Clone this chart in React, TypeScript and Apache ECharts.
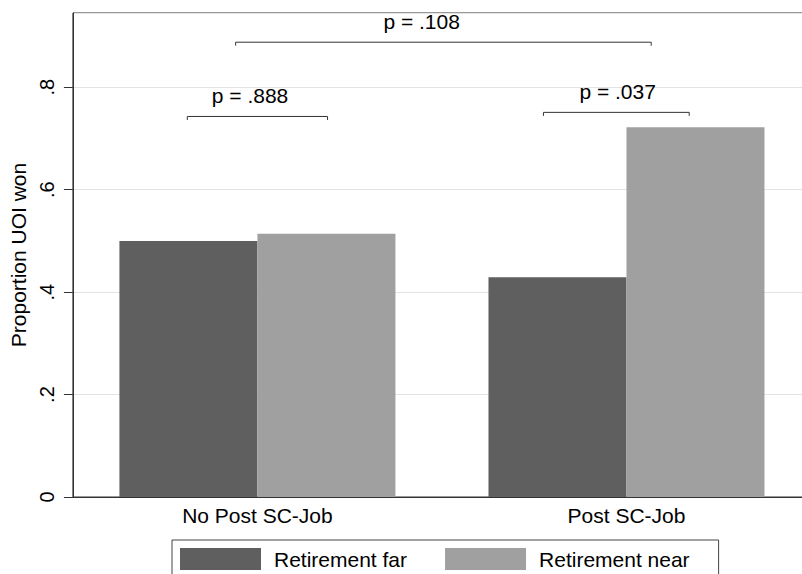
import React, { useEffect, useRef } from "react";
import * as echarts from "echarts";

const categories = ["No Post SC-Job", "Post SC-Job"];
const seriesNames = ["Retirement far", "Retirement near"];
const farValues = [0.5, 0.429];
const nearValues = [0.514, 0.722];
const yTicks = [0, 0.2, 0.4, 0.6, 0.8];
const yMax = 0.945;

// significance annotations: label, bracket level (data units), endpoints as [category index, offset in bands]
const annoText = ["p = .888", "p = .037", "p = .108"];
const annoLevel = [0.743, 0.751, 0.888];
const annoFrom: [number, number][] = [[0, -0.19], [1, -0.225], [0, -0.059]];
const annoTo: [number, number][] = [[0, 0.19], [1, 0.17], [1, 0.067]];
const annoTextAt: [number, number][] = [[0, -0.02], [1, -0.024], [0, 0.445]];

const FONT = "'Liberation Sans', Arial, Helvetica, sans-serif";
const COLORS = ["#5f5f5f", "#a0a0a0"];
const FS = 21;

export default function App() {
  const ref = useRef<HTMLDivElement>(null);
  useEffect(() => {
    document.body.style.margin = "0";
    if (!ref.current) return;
    const chart = echarts.init(ref.current, undefined, { renderer: "svg" });
    chart.setOption({
      animation: false,
      backgroundColor: "#ffffff",
      textStyle: { fontFamily: FONT, color: "#000" },
      grid: {
        left: 69,
        top: 13,
        width: 742,
        height: 484,
        show: true,
        borderColor: "#333",
        borderWidth: 1,
        backgroundColor: "transparent",
      },
      legend: {
        data: seriesNames,
        left: 172,
        top: 540,
        orient: "horizontal",
        itemWidth: 81,
        itemHeight: 22,
        itemGap: 38,
        padding: [8, 29, 12, 8],
        borderColor: "#444",
        borderWidth: 1,
        icon: "rect",
        textStyle: { fontFamily: FONT, fontSize: FS, color: "#000", padding: [0, 0, 0, 8] },
      },
      xAxis: {
        type: "category",
        data: categories,
        axisLine: { show: true, lineStyle: { color: "#333", width: 1 } },
        axisTick: { show: false },
        axisLabel: { fontFamily: FONT, fontSize: FS, color: "#000", margin: 8 },
      },
      yAxis: {
        type: "value",
        min: 0,
        max: yMax,
        interval: 0.2,
        name: "Proportion UOI won",
        nameLocation: "middle",
        nameRotate: 90,
        nameGap: 34,
        nameTextStyle: { fontFamily: FONT, fontSize: FS, color: "#000" },
        axisLine: { show: true, lineStyle: { color: "#333", width: 1 } },
        axisTick: { show: true, length: 9, lineStyle: { color: "#333" } },
        axisLabel: {
          rotate: 90,
          margin: 16,
          fontFamily: FONT,
          fontSize: 20,
          color: "#000",
          showMaxLabel: false,
          formatter: (v: number) => {
            const hit = yTicks.find((t) => Math.abs(t - v) < 1e-6);
            if (hit === undefined) return "";
            return hit === 0 ? "0" : String(hit).replace(/^0/, "");
          },
        },
        splitLine: { show: true, lineStyle: { color: "#e3e3e3", width: 1 } },
      },
      series: [
        {
          name: seriesNames[0],
          type: "bar",
          data: farValues,
          barWidth: 138,
          barGap: "0%",
          itemStyle: { color: COLORS[0] },
        },
        {
          name: seriesNames[1],
          type: "bar",
          data: nearValues,
          barWidth: 138,
          barGap: "0%",
          itemStyle: { color: COLORS[1] },
        },
      ],
    });

    const c0 = chart.convertToPixel({ xAxisIndex: 0 }, 0) as number;
    const c1 = chart.convertToPixel({ xAxisIndex: 0 }, 1) as number;
    const band = c1 - c0;
    const px = (p: [number, number]) => c0 + (p[0] + p[1]) * band;
    const elements: any[] = [];
    annoText.forEach((t, i) => {
      const y = chart.convertToPixel({ yAxisIndex: 0 }, annoLevel[i]) as number;
      const x1 = px(annoFrom[i]);
      const x2 = px(annoTo[i]);
      elements.push({
        type: "polyline",
        shape: { points: [[x1, y + 3.5], [x1, y], [x2, y], [x2, y + 3.5]] },
        style: { stroke: "#333", lineWidth: 1, fill: null },
        silent: true,
      });
      elements.push({
        type: "text",
        x: px(annoTextAt[i]),
        y: y - 21,
        style: {
          text: t,
          fontFamily: FONT,
          fontSize: FS,
          fill: "#000",
          align: "center",
          verticalAlign: "middle",
        },
        silent: true,
      });
    });
    chart.setOption({ graphic: elements });

    return () => chart.dispose();
  }, []);
  return (
    <div style={{ width: 802, height: 574, overflow: "hidden" }}>
      <div ref={ref} style={{ width: 812, height: 574 }} />
    </div>
  );
}
